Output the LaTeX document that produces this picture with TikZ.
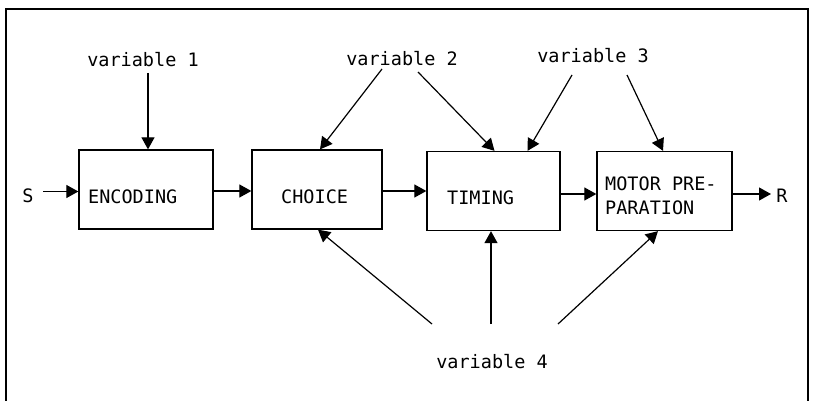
\documentclass[tikz,border=0pt]{standalone}
\usepackage{fontspec}
\setmonofont{DejaVu Sans Mono}
\usetikzlibrary{arrows.meta}
\begin{document}
\begin{tikzpicture}[x=1pt,y=-1pt,
  blk/.style={draw,line width=1.3pt,minimum width=#1,minimum height=79pt,inner sep=0pt},
  txt/.style={font=\ttfamily\fontsize{18.5}{25}\selectfont,inner sep=0pt},
  arr/.style={line width=1.2pt,-{Triangle[length=12pt,width=13pt]}},
  frame/.style={line width=2pt}]
\useasboundingbox (0,0) rectangle (813,401);
% outer frame, open at the bottom
\draw[frame] (6,401) -- (6,9) -- (808,9) -- (808,401);

% processing stages
\node[blk=134pt] (enc) at (146,189.5) {};
\node[blk=130pt] (cho) at (317,189.5) {};
\node[blk=133pt] (tim) at (493.5,191) {};
\node[blk=135pt] (mot) at (664.5,191) {};

\node[txt,anchor=west] (enct) at (88,196.5) {ENCODING};
\node[txt,anchor=west] (chot) at (281,196.5) {CHOICE};
\node[txt,anchor=west] (timt) at (447,197.5) {TIMING};
\node[txt,anchor=west,align=left,font=\ttfamily\fontsize{18.5}{24}\selectfont] (mott) at (605,196) {MOTOR PRE-\\PARATION};

% stimulus and response
\node[txt] (s) at (28,196) {S};
\node[txt] (r) at (782,196) {R};

% variable labels
\node[txt] (v1) at (143,60) {variable 1};
\node[txt] (v2) at (402,59) {variable 2};
\node[txt] (v3) at (593,56) {variable 3};
\node[txt] (v4) at (492,362) {variable 4};

\coordinate (v1s) at (148,73);
\coordinate (v2l) at (382,69);
\coordinate (v2r) at (418,72);
\coordinate (v3l) at (572,75);
\coordinate (v3r) at (627,75);
\coordinate (v4l) at (432,324);
\coordinate (v4m) at (491,324);
\coordinate (v4r) at (558,324);

% main chain
\draw[arr] (43,191.5) coordinate (sa) -- (sa -| enc.west);
\draw[arr] (enc.east |- 0,191) -- (cho.west |- 0,191);
\draw[arr] (cho.east |- 0,191) -- (tim.west |- 0,191);
\draw[arr] (tim.east |- 0,194) -- (mot.west |- 0,194);
\draw[arr] (mot.east |- 0,194) -- (771,194);

% influences from above
\draw[arr] (v1s) -- ([xshift=2pt]enc.north);
\draw[arr] (v2l) -- ([xshift=3pt]cho.north);
\draw[arr] (v2r) -- ([xshift=1pt]tim.north);
\draw[arr] (v3l) -- ([xshift=34pt]tim.north);
\draw[arr] (v3r) -- ([xshift=-1.5pt]mot.north);

% influences from below
\draw[arr] (v4l) -- ([xshift=1pt]cho.south);
\draw[arr] (v4m) -- ([xshift=-2.5pt]tim.south);
\draw[arr] (v4r) -- ([xshift=-6.5pt]mot.south);
\end{tikzpicture}
\end{document}
